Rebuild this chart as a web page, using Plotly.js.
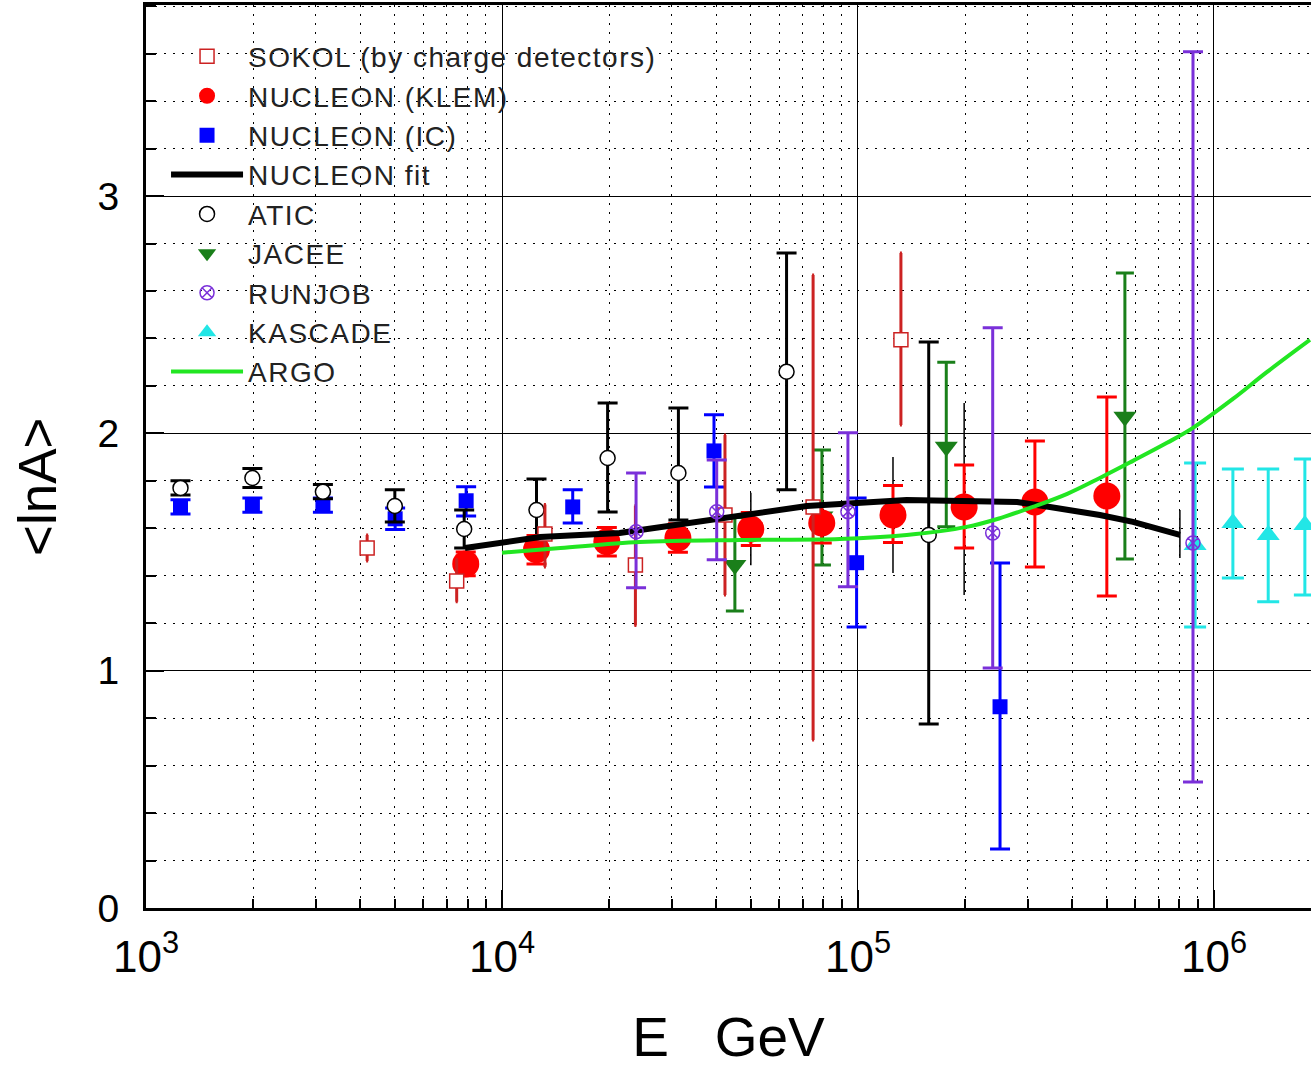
<!DOCTYPE html>
<html>
<head>
<meta charset="utf-8">
<script src="https://cdn.plot.ly/plotly-3.0.1.min.js"></script>
<style>
  html, body { margin: 0; padding: 0; background: #fff; }
  #chart { width: 1311px; height: 1069px; }
  .legendtext { letter-spacing: 1.5px; }
</style>
</head>
<body>
<div id="chart"></div>
<script>
// ---------- data ----------
const sokolE      = [4180, 7460, 13200, 23700, 42300, 74800, 132000];
const sokolV      = [1.517, 1.378, 1.576, 1.445, 1.656, 1.69, 2.394];
const sokolPlus   = [0.055, 0.09, 0.124, 0.25, 0.337, 0.977, 0.366];
const sokolMinus  = [0.055, 0.088, 0.139, 0.255, 0.337, 0.982, 0.359];

const klemE       = [7910, 12500, 19700, 31200, 50000, 79100, 125400, 198700, 314000, 500000];
const klemV       = [1.45, 1.51, 1.543, 1.559, 1.597, 1.622, 1.656, 1.69, 1.711, 1.736];
const klemPlus    = [0.05, 0.06, 0.06, 0.06, 0.07, 0.08, 0.124, 0.177, 0.257, 0.417];
const klemMinus   = [0.05, 0.06, 0.06, 0.06, 0.07, 0.084, 0.116, 0.173, 0.274, 0.421];

const klemSysE     = [50000, 125400, 198700, 802000];
const klemSysV     = [1.597, 1.656, 1.69, 1.572];
const klemSysPlus  = [0.153, 0.244, 0.438, 0.105];
const klemSysMinus = [0.153, 0.244, 0.371, 0.097];

const icE         = [1250, 1990, 3140, 5010, 7930, 15800, 39400, 99100, 250600];
const icV         = [1.69, 1.698, 1.698, 1.64, 1.716, 1.69, 1.926, 1.455, 0.848];
const icPlus      = [0.03, 0.03, 0.03, 0.045, 0.059, 0.072, 0.152, 0.273, 0.606];
const icMinus     = [0.03, 0.03, 0.03, 0.045, 0.064, 0.068, 0.152, 0.271, 0.599];

const fitE        = [7870, 12800, 21400, 39200, 71900, 137000, 280000, 346000, 478000, 592000, 802000];
const fitV        = [1.517, 1.563, 1.58, 1.635, 1.694, 1.719, 1.711, 1.69, 1.656, 1.627, 1.572];

const aticE       = [1250, 1990, 3140, 5000, 7830, 12500, 19800, 31300, 63000, 158000];
const aticV       = [1.77, 1.812, 1.754, 1.694, 1.597, 1.677, 1.896, 1.833, 2.26, 1.572];
const aticPlus    = [0.03, 0.04, 0.03, 0.068, 0.08, 0.131, 0.232, 0.274, 0.50, 0.813];
const aticMinus   = [0.03, 0.04, 0.03, 0.068, 0.08, 0.131, 0.227, 0.198, 0.498, 0.797];

const jaceeE      = [45100, 79200, 177000, 562000];
const jaceeV      = [1.445, 1.65, 1.944, 2.07];
const jaceePlus   = [0.2, 0.28, 0.356, 0.606];
const jaceeMinus  = [0.193, 0.205, 0.338, 0.599];

const runjobE     = [23800, 40100, 93700, 239000, 873000];
const runjobV     = [1.585, 1.67, 1.67, 1.58, 1.538];
const runjobPlus  = [0.248, 0.218, 0.333, 0.865, 2.07];
const runjobMinus = [0.236, 0.203, 0.316, 0.569, 1.007];

const kascadeE     = [885000, 1130000, 1420000, 1800000];
const kascadeV     = [1.53, 1.622, 1.572, 1.614];
const kascadePlus  = [0.345, 0.228, 0.278, 0.278];
const kascadeMinus = [0.346, 0.231, 0.282, 0.295];

const argoE       = [10000, 14600, 24400, 46700, 88900, 137000, 202000, 251000, 310000, 387000, 478000, 592000, 738000, 873000, 1130000, 1410000, 1860000];
const argoV       = [1.497, 1.517, 1.542, 1.551, 1.555, 1.572, 1.606, 1.643, 1.69, 1.745, 1.812, 1.884, 1.96, 2.023, 2.145, 2.259, 2.394];

const xTickVals   = [1e3, 1e4, 1e5, 1e6];
const xTickText   = ['10<sup>3</sup>', '10<sup>4</sup>', '10<sup>5</sup>', '10<sup>6</sup>'];
const yTickVals   = [0, 1, 2, 3];
const yTickText   = ['0', '1', '2', '3'];
const yTitleText  = '&lt;lnA&gt;';
const xTitleText  = 'E\u00a0\u00a0\u00a0GeV';

// minor tick positions on the log axis (2..9 of each decade)
const xMinor = [];
for (let d = 1e3; d < 1e7; d *= 10) for (let m = 2; m <= 9; m++) xMinor.push(m * d);

// ---------- traces ----------
function err(plus, minus, color, thick, w) {
  return { type: 'data', symmetric: false, array: plus, arrayminus: minus,
           color: color, thickness: thick, width: w, visible: true };
}

const RED = '#ff0000', SOK = '#cc2222', BLUE = '#0000ff', GREEN = '#1a7f1a',
      PURPLE = '#7a30d9', CYAN = '#22e6e6', ARGOC = '#22e622';

const traces = [
  { name: 'NUCLEON (IC)', x: icE, y: icV, type: 'scatter', mode: 'markers', legendrank: 3,
    marker: { symbol: 'square', size: 15, color: BLUE },
    error_y: err(icPlus, icMinus, BLUE, 3, 10) },
  { name: 'ATIC', x: aticE, y: aticV, type: 'scatter', mode: 'markers', legendrank: 5,
    marker: { symbol: 'circle', size: 15, color: '#ffffff', line: { color: '#000', width: 1.5 } },
    error_y: err(aticPlus, aticMinus, '#000', 3, 10) },
  { name: 'JACEE', x: jaceeE, y: jaceeV, type: 'scatter', mode: 'markers', legendrank: 6,
    marker: { symbol: 'triangle-down', size: 20, color: GREEN },
    error_y: err(jaceePlus, jaceeMinus, GREEN, 3, 9) },
  { name: 'KLEM sys', x: klemSysE, y: klemSysV, type: 'scatter', mode: 'markers', showlegend: false,
    marker: { size: 1, color: 'rgba(0,0,0,0)' }, hoverinfo: 'skip',
    error_y: err(klemSysPlus, klemSysMinus, '#000', 1.5, 0) },
  { name: 'NUCLEON (KLEM)', x: klemE, y: klemV, type: 'scatter', mode: 'markers', legendrank: 2,
    marker: { symbol: 'circle', size: 27, color: RED },
    error_y: err(klemPlus, klemMinus, RED, 3, 10) },
  { name: 'SOKOL (by charge detectors)', x: sokolE, y: sokolV, type: 'scatter', mode: 'markers', legendrank: 1,
    marker: { symbol: 'square', size: 14, color: '#ffffff', line: { color: SOK, width: 1.5 } },
    error_y: err(sokolPlus, sokolMinus, SOK, 3, 1) },
  { name: 'NUCLEON fit', x: fitE, y: fitV, type: 'scatter', mode: 'lines', legendrank: 4,
    line: { color: '#000', width: 6 } },
  { name: 'KASCADE', x: kascadeE, y: kascadeV, type: 'scatter', mode: 'markers', legendrank: 8,
    marker: { symbol: 'triangle-up', size: 20, color: CYAN },
    error_y: err(kascadePlus, kascadeMinus, CYAN, 3, 11) },
  { name: 'RUNJOB', x: runjobE, y: runjobV, type: 'scatter', mode: 'markers', legendrank: 7,
    marker: { symbol: 'circle-x-open', size: 14, color: PURPLE, line: { width: 1.5 } },
    error_y: err(runjobPlus, runjobMinus, PURPLE, 3, 10) },
  { name: 'ARGO', x: argoE, y: argoV, type: 'scatter', mode: 'lines', legendrank: 9,
    line: { color: ARGOC, width: 4, shape: 'spline', smoothing: 1 } }
];

// ---------- layout ----------
const FONT = 'Arial, "Liberation Sans", Helvetica, sans-serif';
const layout = {
  width: 1311, height: 1069,
  margin: { l: 146, r: 0, t: 5, b: 161, pad: 0 },
  paper_bgcolor: '#ffffff', plot_bgcolor: '#ffffff',
  font: { family: FONT, color: '#000' },
  showlegend: true,
  legend: {
    x: 0.0172, y: 0.9705, xanchor: 'left', yanchor: 'top',
    bgcolor: 'rgba(0,0,0,0)', borderwidth: 0,
    font: { family: FONT, size: 28, color: '#222' },
    itemwidth: 72, traceorder: 'normal'
  },
  xaxis: {
    type: 'log', range: [3, 6.2725], autorange: false,
    tickmode: 'array', tickvals: xTickVals, ticktext: xTickText,
    ticks: 'inside', ticklen: 18, tickwidth: 2, tickcolor: '#000',
    tickfont: { family: FONT, size: 44, color: '#000' },
    ticklabelstandoff: 8,
    showline: true, linewidth: 3, linecolor: '#000', mirror: true,
    showgrid: true, gridcolor: '#000', gridwidth: 1,
    zeroline: false, automargin: false,
    minor: { tickmode: 'array', tickvals: xMinor, ticks: 'inside', ticklen: 9, tickwidth: 2,
             tickcolor: '#000', showgrid: true, gridcolor: '#000', gridwidth: 1, griddash: '2px,7px' },
    title: { text: xTitleText, font: { family: FONT, size: 55, color: '#000' }, standoff: 38 }
  },
  yaxis: {
    range: [0, 3.805], autorange: false,
    tickmode: 'array', tickvals: yTickVals, ticktext: yTickText,
    ticks: 'inside', ticklen: 18, tickwidth: 2, tickcolor: '#000',
    tickfont: { family: FONT, size: 39, color: '#000' },
    ticklabelstandoff: 16,
    showline: true, linewidth: 3, linecolor: '#000', mirror: false,
    showgrid: true, gridcolor: '#000', gridwidth: 1,
    zeroline: false, automargin: false,
    minor: { tick0: 0, dtick: 0.2, ticks: 'inside', ticklen: 10, tickwidth: 2, tickcolor: '#000',
             showgrid: true, gridcolor: '#000', gridwidth: 1, griddash: '2px,7px' },
    title: { text: '' }
  },
  annotations: [
    { text: yTitleText, xref: 'paper', yref: 'paper', x: -0.0936, y: 0.4673,
      xanchor: 'center', yanchor: 'middle', textangle: -90, showarrow: false,
      font: { family: FONT, size: 53, color: '#000' } }
  ]
};

Plotly.newPlot('chart', traces, layout, { displayModeBar: false, responsive: false });
</script>
</body>
</html>
